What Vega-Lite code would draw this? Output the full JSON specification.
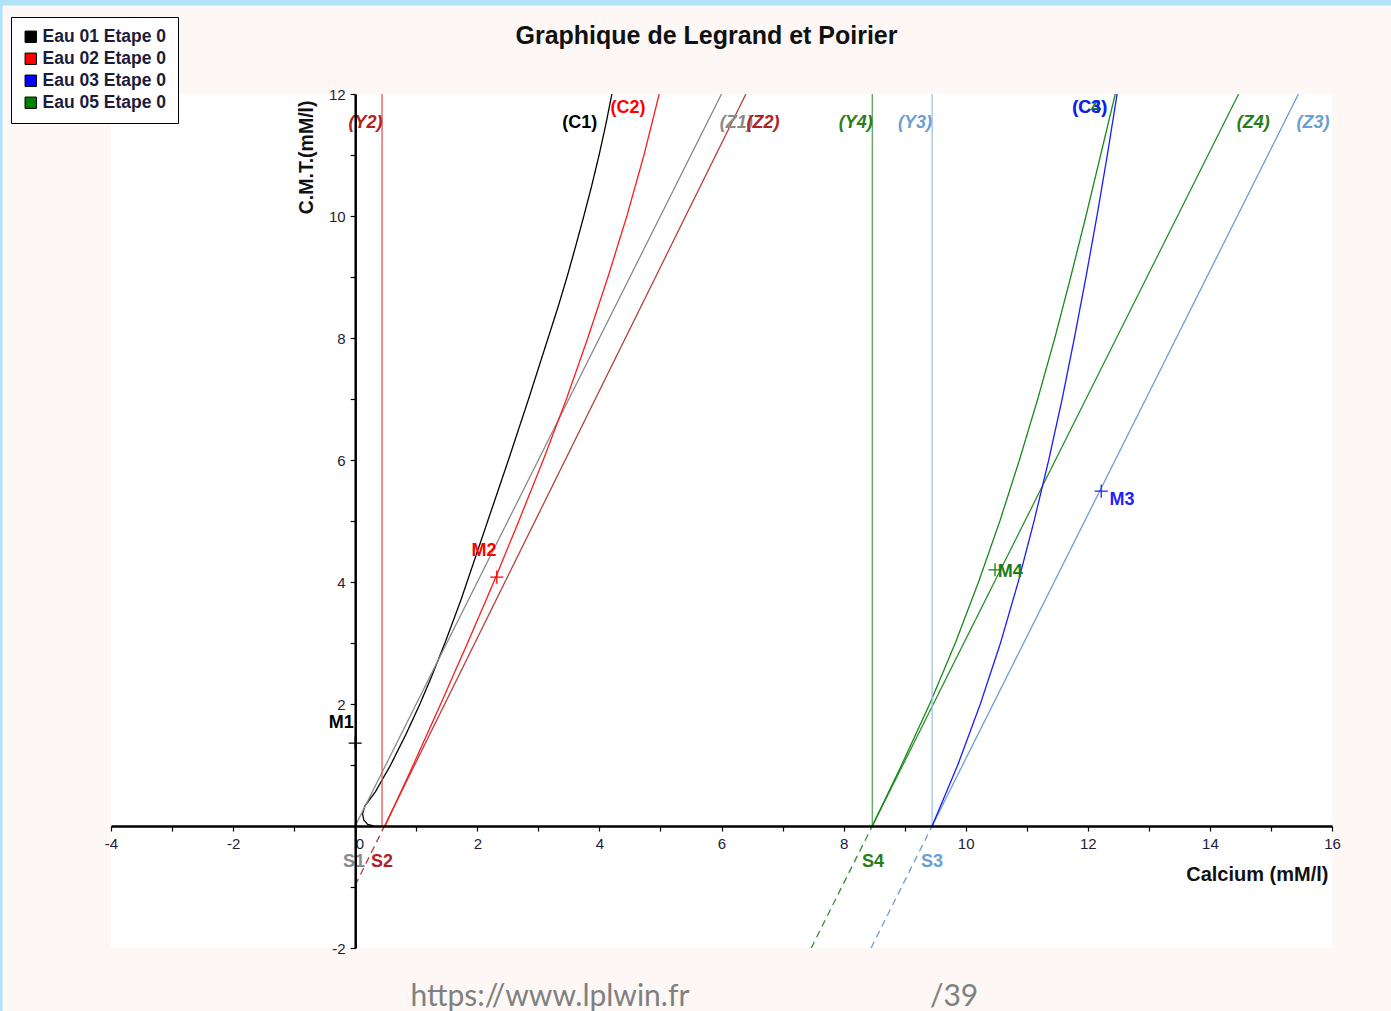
{
  "$schema": "https://vega.github.io/schema/vega-lite/v6.json",
  "width": 1221,
  "height": 854,
  "autosize": {"type": "none"},
  "padding": {"left": 111, "top": 94, "right": 59, "bottom": 63},
  "background": "#fdf8f6",
  "config": {
    "view": {"fill": "white", "stroke": null},
    "font": "Liberation Sans"
  },
  "title": {
    "text": "Graphique de Legrand et Poirier",
    "frame": "group",
    "anchor": "middle",
    "dx": -15,
    "offset": -70,
    "baseline": "alphabetic",
    "font": "Liberation Sans",
    "fontSize": 25,
    "fontWeight": "bold",
    "color": "#111111"
  },
  "datasets": {
    "courbes": [
      {"trace": "C1", "partie": "trait", "x": 0.30, "y": 0.00},
      {"trace": "C1", "partie": "trait", "x": 0.20, "y": 0.03},
      {"trace": "C1", "partie": "trait", "x": 0.14, "y": 0.10},
      {"trace": "C1", "partie": "trait", "x": 0.12, "y": 0.20},
      {"trace": "C1", "partie": "trait", "x": 0.16, "y": 0.33},
      {"trace": "C1", "partie": "trait", "x": 0.33, "y": 0.56},
      {"trace": "C1", "partie": "trait", "x": 0.58, "y": 1.00},
      {"trace": "C1", "partie": "trait", "x": 0.83, "y": 1.50},
      {"trace": "C1", "partie": "trait", "x": 1.06, "y": 2.00},
      {"trace": "C1", "partie": "trait", "x": 1.23, "y": 2.40},
      {"trace": "C1", "partie": "trait", "x": 1.47, "y": 3.00},
      {"trace": "C1", "partie": "trait", "x": 1.73, "y": 3.70},
      {"trace": "C1", "partie": "trait", "x": 2.12, "y": 4.85},
      {"trace": "C1", "partie": "trait", "x": 2.51, "y": 6.00},
      {"trace": "C1", "partie": "trait", "x": 2.84, "y": 7.00},
      {"trace": "C1", "partie": "trait", "x": 3.16, "y": 8.00},
      {"trace": "C1", "partie": "trait", "x": 3.32, "y": 8.50},
      {"trace": "C1", "partie": "trait", "x": 3.47, "y": 9.00},
      {"trace": "C1", "partie": "trait", "x": 3.61, "y": 9.50},
      {"trace": "C1", "partie": "trait", "x": 3.745, "y": 10.00},
      {"trace": "C1", "partie": "trait", "x": 3.875, "y": 10.50},
      {"trace": "C1", "partie": "trait", "x": 3.995, "y": 11.00},
      {"trace": "C1", "partie": "trait", "x": 4.105, "y": 11.50},
      {"trace": "C1", "partie": "trait", "x": 4.205, "y": 12.00},

      {"trace": "Z1", "partie": "trait", "x": 0.00, "y": 0.00},
      {"trace": "Z1", "partie": "trait", "x": 6.00, "y": 12.00},

      {"trace": "Y2", "partie": "trait", "x": 0.44, "y": 0.00},
      {"trace": "Y2", "partie": "trait", "x": 0.44, "y": 12.00},

      {"trace": "Z2", "partie": "trait", "x": 0.48, "y": 0.00},
      {"trace": "Z2", "partie": "trait", "x": 6.40, "y": 12.00},
      {"trace": "Z2", "partie": "pointille", "x": 0.00, "y": -0.97},
      {"trace": "Z2", "partie": "pointille", "x": 0.48, "y": 0.00},

      {"trace": "C2", "partie": "trait", "x": 0.49, "y": 0.00},
      {"trace": "C2", "partie": "trait", "x": 0.95, "y": 1.00},
      {"trace": "C2", "partie": "trait", "x": 1.40, "y": 2.00},
      {"trace": "C2", "partie": "trait", "x": 1.84, "y": 3.00},
      {"trace": "C2", "partie": "trait", "x": 2.27, "y": 4.00},
      {"trace": "C2", "partie": "trait", "x": 2.68, "y": 5.00},
      {"trace": "C2", "partie": "trait", "x": 3.08, "y": 6.00},
      {"trace": "C2", "partie": "trait", "x": 3.46, "y": 7.00},
      {"trace": "C2", "partie": "trait", "x": 3.81, "y": 8.00},
      {"trace": "C2", "partie": "trait", "x": 4.14, "y": 9.00},
      {"trace": "C2", "partie": "trait", "x": 4.45, "y": 10.00},
      {"trace": "C2", "partie": "trait", "x": 4.73, "y": 11.00},
      {"trace": "C2", "partie": "trait", "x": 4.98, "y": 12.00},

      {"trace": "Y4", "partie": "trait", "x": 8.47, "y": 0.00},
      {"trace": "Y4", "partie": "trait", "x": 8.47, "y": 12.00},

      {"trace": "Z4", "partie": "trait", "x": 8.47, "y": 0.00},
      {"trace": "Z4", "partie": "trait", "x": 14.47, "y": 12.00},
      {"trace": "Z4", "partie": "pointille", "x": 7.47, "y": -2.00},
      {"trace": "Z4", "partie": "pointille", "x": 8.47, "y": 0.00},

      {"trace": "C4", "partie": "trait", "x": 8.47, "y": 0.00},
      {"trace": "C4", "partie": "trait", "x": 8.95, "y": 1.00},
      {"trace": "C4", "partie": "trait", "x": 9.41, "y": 2.00},
      {"trace": "C4", "partie": "trait", "x": 9.83, "y": 3.00},
      {"trace": "C4", "partie": "trait", "x": 10.21, "y": 4.00},
      {"trace": "C4", "partie": "trait", "x": 10.56, "y": 5.00},
      {"trace": "C4", "partie": "trait", "x": 10.88, "y": 6.00},
      {"trace": "C4", "partie": "trait", "x": 11.18, "y": 7.00},
      {"trace": "C4", "partie": "trait", "x": 11.46, "y": 8.00},
      {"trace": "C4", "partie": "trait", "x": 11.72, "y": 9.00},
      {"trace": "C4", "partie": "trait", "x": 11.97, "y": 10.00},
      {"trace": "C4", "partie": "trait", "x": 12.21, "y": 11.00},
      {"trace": "C4", "partie": "trait", "x": 12.45, "y": 12.00},

      {"trace": "Y3", "partie": "trait", "x": 9.45, "y": 0.00},
      {"trace": "Y3", "partie": "trait", "x": 9.45, "y": 12.00},

      {"trace": "Z3", "partie": "trait", "x": 9.45, "y": 0.00},
      {"trace": "Z3", "partie": "trait", "x": 15.45, "y": 12.00},
      {"trace": "Z3", "partie": "pointille", "x": 8.45, "y": -2.00},
      {"trace": "Z3", "partie": "pointille", "x": 9.45, "y": 0.00},

      {"trace": "C3", "partie": "trait", "x": 9.45, "y": 0.00},
      {"trace": "C3", "partie": "trait", "x": 9.87, "y": 1.00},
      {"trace": "C3", "partie": "trait", "x": 10.24, "y": 2.00},
      {"trace": "C3", "partie": "trait", "x": 10.57, "y": 3.00},
      {"trace": "C3", "partie": "trait", "x": 10.86, "y": 4.00},
      {"trace": "C3", "partie": "trait", "x": 11.12, "y": 5.00},
      {"trace": "C3", "partie": "trait", "x": 11.36, "y": 6.00},
      {"trace": "C3", "partie": "trait", "x": 11.58, "y": 7.00},
      {"trace": "C3", "partie": "trait", "x": 11.78, "y": 8.00},
      {"trace": "C3", "partie": "trait", "x": 11.97, "y": 9.00},
      {"trace": "C3", "partie": "trait", "x": 12.15, "y": 10.00},
      {"trace": "C3", "partie": "trait", "x": 12.32, "y": 11.00},
      {"trace": "C3", "partie": "trait", "x": 12.48, "y": 12.00}
    ],
    "points": [
      {"texte": "M1", "eau": "Eau 01 Etape 0", "x": 0.00, "y": 1.36},
      {"texte": "M2", "eau": "Eau 02 Etape 0", "x": 2.32, "y": 4.08},
      {"texte": "M3", "eau": "Eau 03 Etape 0", "x": 12.22, "y": 5.49},
      {"texte": "M4", "eau": "Eau 05 Etape 0", "x": 10.48, "y": 4.20}
    ],
    "etiquettes": [
      {"texte": "(Y2)", "nature": "droite", "x": 0.17, "y": 11.52},
      {"texte": "(C1)", "nature": "courbe", "x": 3.68, "y": 11.52},
      {"texte": "(C2)", "nature": "courbe", "x": 4.47, "y": 11.77},
      {"texte": "(Z1)", "nature": "droite", "x": 6.24, "y": 11.52},
      {"texte": "(Z2)", "nature": "droite", "x": 6.68, "y": 11.52},
      {"texte": "(Y4)", "nature": "droite", "x": 8.20, "y": 11.52},
      {"texte": "(Y3)", "nature": "droite", "x": 9.17, "y": 11.52},
      {"texte": "(C4)", "nature": "courbe", "x": 12.03, "y": 11.77},
      {"texte": "(C3)", "nature": "courbe", "x": 12.03, "y": 11.77},
      {"texte": "(Z4)", "nature": "droite", "x": 14.71, "y": 11.52},
      {"texte": "(Z3)", "nature": "droite", "x": 15.69, "y": 11.52},
      {"texte": "S1", "nature": "sommet", "x": -0.02, "y": -0.59},
      {"texte": "S2", "nature": "sommet", "x": 0.44, "y": -0.59},
      {"texte": "S4", "nature": "sommet", "x": 8.48, "y": -0.59},
      {"texte": "S3", "nature": "sommet", "x": 9.45, "y": -0.59},
      {"texte": "M1", "nature": "point", "x": -0.23, "y": 1.69},
      {"texte": "M2", "nature": "point", "x": 2.11, "y": 4.51},
      {"texte": "M3", "nature": "point", "x": 12.56, "y": 5.34},
      {"texte": "M4", "nature": "point", "x": 10.73, "y": 4.16}
    ],
    "pied": [
      {"texte": "https://www.lplwin.fr", "x": 3.19, "y": -2.81},
      {"texte": "/39", "x": 9.81, "y": -2.81}
    ],
    "bords": [
      {"bord": "cadre"}
    ]
  },
  "layer": [
    {
      "data": {"name": "courbes"},
      "mark": {"type": "line", "strokeWidth": 1.3, "clip": true},
      "encoding": {
        "x": {
          "field": "x",
          "type": "quantitative",
          "title": "Calcium (mM/l)",
          "scale": {"domain": [-4, 16], "nice": false, "zero": false},
          "axis": {
            "offset": -122,
            "zindex": 1,
            "values": [-4, -3, -2, -1, 0, 1, 2, 3, 4, 5, 6, 7, 8, 9, 10, 11, 12, 13, 14, 15, 16],
            "labelExpr": "datum.value % 2 == 0 ? '' + datum.value : ''",
            "labelFlush": false,
            "labelOverlap": false,
            "labelAlign": {"condition": {"test": "datum.value == 0", "value": "left"}, "value": "center"},
            "labelFont": "Liberation Sans",
            "labelFontSize": 15,
            "labelColor": "#1c1c3c",
            "labelPadding": 5,
            "grid": false,
            "domainColor": "#000000",
            "domainWidth": 2.5,
            "tickColor": "#000000",
            "tickWidth": 1.2,
            "tickSize": 5,
            "titleFont": "Liberation Sans",
            "titleFontSize": 20,
            "titleFontWeight": "bold",
            "titleColor": "#111111",
            "titleAlign": "right",
            "titleBaseline": "alphabetic",
            "titleX": 1217,
            "titleY": 54
          }
        },
        "y": {
          "field": "y",
          "type": "quantitative",
          "title": "C.M.T.(mM/l)",
          "scale": {"domain": [-2, 12], "nice": false, "zero": false},
          "axis": {
            "offset": -244.2,
            "zindex": 1,
            "values": [-2, -1, 0, 1, 2, 3, 4, 5, 6, 7, 8, 9, 10, 11, 12],
            "labelExpr": "datum.value % 2 == 0 && datum.value != 0 ? '' + datum.value : ''",
            "labelOverlap": false,
            "labelFlush": false,
            "labelFont": "Liberation Sans",
            "labelFontSize": 15,
            "labelColor": "#1c1c3c",
            "labelPadding": 5,
            "grid": false,
            "domainColor": "#000000",
            "domainWidth": 2.5,
            "tickColor": "#000000",
            "tickWidth": 1.2,
            "tickSize": 5,
            "titleFont": "Liberation Sans",
            "titleFontSize": 19.5,
            "titleFontWeight": "bold",
            "titleColor": "#111111",
            "titleAngle": -90,
            "titleAlign": "right",
            "titleBaseline": "middle",
            "titleX": -49,
            "titleY": 6
          }
        },
        "order": {"field": "y", "type": "quantitative"},
        "color": {
          "field": "trace",
          "type": "nominal",
          "legend": null,
          "scale": {
            "domain": ["C1", "Z1", "Y2", "Z2", "C2", "Y4", "Z4", "C4", "Y3", "Z3", "C3",
                       "M1", "M2", "M3", "M4",
                       "(C1)", "(C2)", "(Z1)", "(Z2)", "(Y2)", "(Y4)", "(Y3)", "(C3)", "(C4)", "(Z4)", "(Z3)",
                       "S1", "S2", "S3", "S4"],
            "range": ["#000000", "#8a8a8a", "#d85a5a", "#b5403f", "#ff1a1a", "#5ea65e", "#2f8f2f", "#168a16", "#9cc2e4", "#6b9fd0", "#1a1aff",
                      "#000000", "#ff0000", "#1f1fff", "#1c7c1c",
                      "#000000", "#ff0000", "#8a8a8a", "#b22222", "#b22222", "#2a7d1a", "#6a9fd4", "#1a1aff", "#138413", "#2a7d1a", "#6a9fd4",
                      "#8a8a8a", "#b22222", "#6a9fd4", "#2a7d1a"]
          }
        },
        "strokeDash": {
          "field": "partie",
          "type": "nominal",
          "legend": null,
          "scale": {"domain": ["trait", "pointille"], "range": [[1, 0], [7, 5]]}
        }
      }
    },
    {
      "data": {"name": "points"},
      "mark": {"type": "square", "opacity": 0},
      "encoding": {
        "x": {"field": "x", "type": "quantitative", "title": "Calcium (mM/l)"},
        "y": {"field": "y", "type": "quantitative", "title": "C.M.T.(mM/l)"},
        "fill": {
          "field": "eau",
          "type": "nominal",
          "scale": {
            "domain": ["Eau 01 Etape 0", "Eau 02 Etape 0", "Eau 03 Etape 0", "Eau 05 Etape 0"],
            "range": ["#000000", "#ff0000", "#0000ff", "#008000"]
          },
          "legend": {
            "title": null,
            "orient": "none",
            "legendX": -100,
            "legendY": -77,
            "symbolType": "square",
            "symbolSize": 130,
            "symbolOpacity": 1,
            "symbolStrokeColor": "#000000",
            "symbolStrokeWidth": 1,
            "labelFont": "Liberation Sans",
            "labelFontSize": 17.5,
            "labelFontWeight": "bold",
            "labelColor": "#1b1b3a",
            "labelOffset": 3,
            "rowPadding": 3,
            "padding": 11,
            "strokeColor": "#000000",
            "fillColor": "#ffffff"
          }
        }
      }
    },
    {
      "data": {"name": "points"},
      "mark": {"type": "point", "shape": "M-1,0H1M0,-1V1", "filled": false, "size": 170, "strokeWidth": 1.3, "opacity": 1},
      "encoding": {
        "x": {"field": "x", "type": "quantitative", "title": "Calcium (mM/l)"},
        "y": {"field": "y", "type": "quantitative", "title": "C.M.T.(mM/l)"},
        "color": {"field": "texte", "type": "nominal"}
      }
    },
    {
      "data": {"name": "etiquettes"},
      "transform": [{"filter": "datum.nature == 'droite'"}],
      "mark": {"type": "text", "font": "Liberation Sans", "fontSize": 18, "fontWeight": "bold", "fontStyle": "italic", "baseline": "middle", "align": "center"},
      "encoding": {
        "x": {"field": "x", "type": "quantitative", "title": "Calcium (mM/l)"},
        "y": {"field": "y", "type": "quantitative", "title": "C.M.T.(mM/l)"},
        "text": {"field": "texte"},
        "color": {"field": "texte", "type": "nominal"}
      }
    },
    {
      "data": {"name": "etiquettes"},
      "transform": [{"filter": "datum.nature != 'droite'"}],
      "mark": {"type": "text", "font": "Liberation Sans", "fontSize": 18, "fontWeight": "bold", "baseline": "middle", "align": "center"},
      "encoding": {
        "x": {"field": "x", "type": "quantitative", "title": "Calcium (mM/l)"},
        "y": {"field": "y", "type": "quantitative", "title": "C.M.T.(mM/l)"},
        "text": {"field": "texte"},
        "color": {"field": "texte", "type": "nominal"}
      }
    },
    {
      "data": {"name": "pied"},
      "mark": {"type": "text", "font": "Lato", "fontSize": 30, "color": "#808080", "baseline": "middle", "align": "center"},
      "encoding": {
        "x": {"field": "x", "type": "quantitative", "title": "Calcium (mM/l)"},
        "y": {"field": "y", "type": "quantitative", "title": "C.M.T.(mM/l)"},
        "text": {"field": "texte"}
      }
    },
    {
      "data": {"name": "bords"},
      "mark": {"type": "rect", "color": "#b0e3f8"},
      "encoding": {
        "x": {"datum": -5.82, "type": "quantitative"},
        "x2": {"datum": 16.97},
        "y": {"datum": 13.56, "type": "quantitative"},
        "y2": {"datum": 13.45}
      }
    },
    {
      "data": {"name": "bords"},
      "mark": {"type": "rect", "color": "#b0e3f8"},
      "encoding": {
        "x": {"datum": -5.82, "type": "quantitative"},
        "x2": {"datum": -5.775},
        "y": {"datum": 13.56, "type": "quantitative"},
        "y2": {"datum": -3.05}
      }
    }
  ]
}
